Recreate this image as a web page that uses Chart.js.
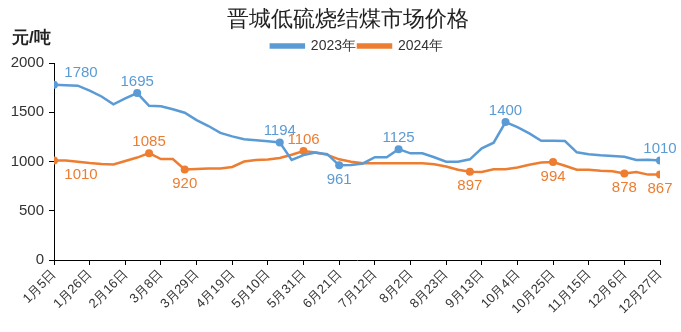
<!DOCTYPE html>
<html>
<head>
<meta charset="utf-8">
<script src="https://cdn.jsdelivr.net/npm/chart.js@4"></script>
<style>
  html, body { margin: 0; padding: 0; background: #fff; }
  #wrap { width: 681px; height: 332px; }
</style>
</head>
<body>
<div id="wrap"><canvas id="chart" width="681" height="332"></canvas></div>
<script>
// 每周日期（2024年）
const weeks = [
  "1月5日", "1月12日", "1月19日", "1月26日", "2月2日", "2月9日", "2月16日", "2月23日",
  "3月1日", "3月8日", "3月15日", "3月22日", "3月29日", "4月5日", "4月12日", "4月19日", "4月26日",
  "5月3日", "5月10日", "5月17日", "5月24日", "5月31日", "6月7日", "6月14日", "6月21日", "6月28日",
  "7月5日", "7月12日", "7月19日", "7月26日", "8月2日", "8月9日", "8月16日", "8月23日", "8月30日",
  "9月6日", "9月13日", "9月20日", "9月27日", "10月4日", "10月11日", "10月18日", "10月25日",
  "11月1日", "11月8日", "11月15日", "11月22日", "11月29日", "12月6日", "12月13日", "12月20日", "12月27日"
];

const price2023 = [
  1780, 1775, 1770, 1720, 1660, 1580, 1640, 1695, 1565, 1560, 1530, 1495, 1420,
  1360, 1290, 1255, 1225, 1215, 1205, 1194, 1015, 1065, 1090, 1075, 961, 965,
  980, 1043, 1043, 1125, 1083, 1083, 1043, 998, 998, 1022, 1134, 1191, 1400,
  1350, 1286, 1211, 1211, 1208, 1093, 1073, 1063, 1056, 1049, 1015, 1018, 1010
];

const price2024 = [
  1010, 1010, 998, 985, 975, 970, 1005, 1040, 1085, 1025, 1025, 920, 925,
  930, 930, 945, 1000, 1015, 1020, 1035, 1068, 1106, 1092, 1067, 1022, 998,
  983, 983, 983, 983, 983, 983, 973, 950, 917, 897, 893, 922, 922,
  940, 967, 990, 994, 957, 917, 917, 907, 900, 878, 893, 867, 867
];

// 标注的数据点：[序号, 位置]
const marks2023 = [[0, "up"], [7, "up"], [19, "up"], [24, "down"], [29, "up"], [38, "up"], [51, "up"]];
const marks2024 = [[0, "down"], [8, "up"], [11, "down"], [21, "up"], [35, "down"], [42, "down"], [48, "down"], [51, "down"]];

const blue = "#5B9BD5";
const orange = "#ED7D31";
const fontFamily = "'Liberation Sans', Arial, sans-serif";

function radii(marks) {
  const idx = marks.map(m => m[0]);
  return weeks.map((_, i) => idx.includes(i) ? 4 : 0);
}

const pointLabels = {
  id: "pointLabels",
  afterDatasetsDraw(chart) {
    const ctx = chart.ctx;
    const allMarks = [marks2023, marks2024];
    ctx.save();
    ctx.font = "15px " + fontFamily;
    ctx.textAlign = "center";
    chart.data.datasets.forEach((ds, d) => {
      const meta = chart.getDatasetMeta(d);
      ctx.fillStyle = ds.borderColor;
      allMarks[d].forEach(([i, pos]) => {
        const pt = meta.data[i];
        const val = ds.data[i].y;
        const dx = i === 0 ? 27 : 0;
        if (pos === "up") {
          ctx.textBaseline = "bottom";
          ctx.fillText(String(val), pt.x + dx, pt.y - 4);
        } else {
          ctx.textBaseline = "top";
          ctx.fillText(String(val), pt.x + dx, pt.y + 7);
        }
      });
    });
    ctx.restore();
  }
};

// 标题与单位
const headings = {
  id: "headings",
  afterDraw(chart) {
    const ctx = chart.ctx;
    ctx.save();
    ctx.fillStyle = "#222";
    ctx.textBaseline = "middle";
    ctx.font = "22px " + fontFamily;
    ctx.textAlign = "center";
    ctx.fillText("晋城低硫烧结煤市场价格", 348, 20);
    ctx.font = "bold 17px " + fontFamily;
    ctx.textAlign = "left";
    ctx.fillText("元/吨", 12, 38);
    ctx.restore();
  }
};

new Chart(document.getElementById("chart"), {
  type: "line",
  data: {
    datasets: [
      {
        label: "2023年",
        data: price2023.map((v, i) => ({ x: i, y: v })),
        borderColor: blue,
        backgroundColor: blue,
        borderWidth: 2.5,
        pointRadius: radii(marks2023),
        pointHoverRadius: radii(marks2023),
        pointBackgroundColor: blue,
        pointBorderWidth: 0,
        tension: 0
      },
      {
        label: "2024年",
        data: price2024.map((v, i) => ({ x: i, y: v })),
        borderColor: orange,
        backgroundColor: orange,
        borderWidth: 2.5,
        pointRadius: radii(marks2024),
        pointHoverRadius: radii(marks2024),
        pointBackgroundColor: orange,
        pointBorderWidth: 0,
        tension: 0
      }
    ]
  },
  options: {
    responsive: false,
    animation: false,
    layout: { padding: { left: 0, right: 21, top: 37, bottom: 4 } },
    plugins: {
      title: { display: false },
      legend: {
        display: true,
        fullSize: false,
        labels: {
          color: "#333",
          font: { family: fontFamily, size: 14 },
          boxWidth: 33,
          boxHeight: 3,
          padding: 2
        }
      },
      tooltip: { enabled: false }
    },
    scales: {
      x: {
        type: "linear",
        min: 0,
        max: weeks.length - 1,
        afterBuildTicks(axis) {
          const t = [];
          for (let i = 0; i < weeks.length; i += 3) t.push({ value: i });
          axis.ticks = t;
        },
        ticks: {
          autoSkip: false,
          maxRotation: 45,
          minRotation: 45,
          color: "#333",
          font: { family: fontFamily, size: 13 },
          padding: 2,
          callback: v => weeks[v]
        },
        grid: { display: true, drawOnChartArea: false, drawTicks: true, tickLength: 5, color: "#000" },
        border: { display: true, color: "#000", width: 1 },
        afterFit(axis) { axis.height = 68; }
      },
      y: {
        min: 0,
        max: 2000,
        ticks: {
          stepSize: 500,
          color: "#333",
          font: { family: fontFamily, size: 15 },
          padding: 5,
          callback: v => String(v)
        },
        grid: { display: true, drawOnChartArea: false, drawTicks: true, tickLength: 5, color: "#000" },
        border: { display: true, color: "#000", width: 1 },
        afterFit(axis) { axis.width = 54; }
      }
    }
  },
  plugins: [pointLabels, headings]
});
</script>
</body>
</html>
